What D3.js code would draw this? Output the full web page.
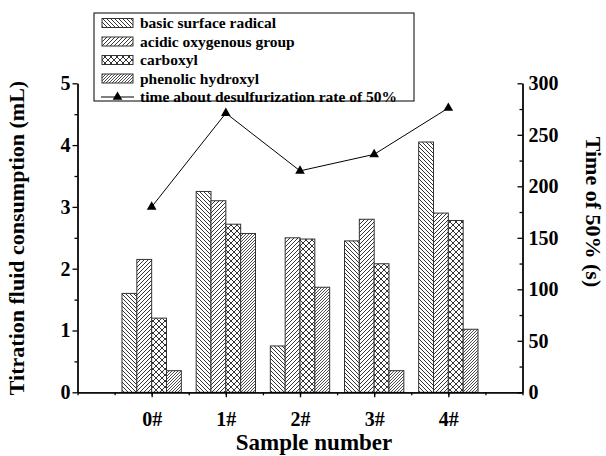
<!DOCTYPE html>
<html>
<head>
<meta charset="utf-8">
<script src="https://cdn.jsdelivr.net/npm/d3@7"></script>
<style>
  body { margin: 0; background: #fff; }
  svg { font-family: "Liberation Serif", "Times New Roman", serif; font-weight: bold; }
</style>
</head>
<body>
<svg id="chart" width="606" height="456"></svg>
<script>
// data
const samples = ["0#", "1#", "2#", "3#", "4#"];
const seriesNames = ["basic surface radical", "acidic oxygenous group", "carboxyl", "phenolic hydroxyl"];
const basic = [1.6, 3.25, 0.75, 2.45, 4.05];
const acidic = [2.15, 3.1, 2.5, 2.8, 2.9];
const carboxyl = [1.2, 2.72, 2.48, 2.08, 2.78];
const phenolic = [0.35, 2.57, 1.7, 0.35, 1.02];
const timeHalf = [180, 271, 215, 231, 276];
const lineName = "time about desulfurization rate of 50%";
const leftTicks = [0, 1, 2, 3, 4, 5];
const rightTicks = [0, 50, 100, 150, 200, 250, 300];

const series = [basic, acidic, carboxyl, phenolic];

const svg = d3.select("#chart");
const mLeft = 77.5, mRight = 522.5, mTop = 83.3, mBottom = 392.3;

const x = d3.scaleLinear().domain([-1, 5]).range([mLeft, mRight]);
const y = d3.scaleLinear().domain([0, 5]).range([mBottom, mTop]);
const y2 = d3.scaleLinear().domain([0, 300]).range([mBottom, mTop]);

// hatch patterns
const defs = svg.append("defs");
function hatch(id, size, d, sw) {
  const p = defs.append("pattern")
    .attr("id", id)
    .attr("patternUnits", "userSpaceOnUse")
    .attr("width", size)
    .attr("height", size);
  p.append("rect").attr("width", size).attr("height", size).attr("fill", "#fff");
  p.append("path").attr("d", d).attr("stroke", "#000").attr("stroke-width", sw).attr("fill", "none");
}
hatch("p0", 4, "M0,0L4,4M-1,3L1,5M3,-1L5,1", 0.8);
hatch("p1", 4, "M0,4L4,0M-1,1L1,-1M3,5L5,3", 0.8);
hatch("p2", 6, "M0,0L6,6M-1,5L1,7M5,-1L7,1M0,6L6,0M-1,1L1,-1M5,7L7,5", 0.8);
hatch("p3", 3, "M0,3L3,0M-1,1L1,-1M2,4L4,2", 0.7);
const fills = ["url(#p0)", "url(#p1)", "url(#p2)", "url(#p3)"];

// bars
const bw = 0.2;
series.forEach((vals, i) => {
  svg.append("g").selectAll("rect")
    .data(vals)
    .enter().append("rect")
    .attr("x", (d, j) => x(j + (i - 2) * bw))
    .attr("y", d => y(d))
    .attr("width", x(bw) - x(0))
    .attr("height", d => y(0) - y(d))
    .attr("fill", fills[i])
    .attr("stroke", "#333")
    .attr("stroke-width", 1);
});

// axes
function styleAxis(g) {
  g.select(".domain").attr("stroke", "#000").attr("stroke-width", 1.3);
  g.selectAll(".tick line").attr("stroke", "#000").attr("stroke-width", 1.3);
  g.selectAll(".tick text").attr("font-size", "20px").attr("font-weight", "bold")
    .attr("font-family", "Liberation Serif, Times New Roman, serif").attr("fill", "#000");
}

// bottom
svg.append("g")
  .attr("transform", `translate(0,${mBottom})`)
  .call(d3.axisBottom(x).tickValues(d3.range(-0.5, 5, 0.5)).tickSize(3).tickFormat(""))
  .call(styleAxis);
svg.append("g")
  .attr("transform", `translate(0,${mBottom})`)
  .call(d3.axisBottom(x).tickValues(d3.range(0, 5)).tickSize(5).tickSizeOuter(0).tickPadding(15)
    .tickFormat(i => samples[i]))
  .call(styleAxis);

// left
svg.append("g")
  .attr("transform", `translate(${mLeft},0)`)
  .call(d3.axisLeft(y).tickValues(d3.range(0.5, 5, 1)).tickSize(3).tickSizeOuter(0).tickFormat(""))
  .call(styleAxis);
svg.append("g")
  .attr("transform", `translate(${mLeft},0)`)
  .call(d3.axisLeft(y).tickValues(leftTicks).tickSize(5).tickSizeOuter(0).tickPadding(2)
    .tickFormat(d3.format("d")))
  .call(styleAxis);

// right
svg.append("g")
  .attr("transform", `translate(${mRight},0)`)
  .call(d3.axisLeft(y2).tickValues(d3.range(25, 300, 50)).tickSize(3).tickSizeOuter(0).tickFormat(""))
  .call(styleAxis);
svg.append("g")
  .attr("transform", `translate(${mRight},0)`)
  .call(d3.axisLeft(y2).tickValues(rightTicks).tickSize(5).tickSizeOuter(0).tickFormat(""))
  .call(styleAxis);
svg.append("g")
  .attr("transform", `translate(${mRight},0)`)
  .call(d3.axisRight(y2).tickValues(rightTicks).tickSize(0).tickPadding(6)
    .tickFormat(d3.format("d")))
  .call(styleAxis)
  .call(g => g.select(".domain").remove());

// line
const line = d3.line().x((d, i) => x(i)).y(d => y2(d));
svg.append("path")
  .datum(timeHalf)
  .attr("d", line)
  .attr("fill", "none")
  .attr("stroke", "#000")
  .attr("stroke-width", 1);
const tri = d3.symbol().type(d3.symbolTriangle).size(40);
svg.append("g").selectAll("path")
  .data(timeHalf)
  .enter().append("path")
  .attr("d", tri)
  .attr("transform", (d, i) => `translate(${x(i)},${y2(d)})`)
  .attr("fill", "#000");

// axis titles
svg.append("text")
  .attr("transform", "translate(24,238) rotate(-90)")
  .attr("text-anchor", "middle")
  .attr("font-size", "22px")
  .text("Titration fluid consumption (mL)");
svg.append("text")
  .attr("x", 314)
  .attr("y", 450)
  .attr("text-anchor", "middle")
  .attr("font-size", "23px")
  .text("Sample number");
svg.append("text")
  .attr("transform", "translate(586,212) rotate(90)")
  .attr("text-anchor", "middle")
  .attr("font-size", "22px")
  .text("Time of 50% (s)");

// legend
const lg = svg.append("g");
lg.append("rect")
  .attr("x", 94).attr("y", 13).attr("width", 320).attr("height", 88)
  .attr("fill", "#fff").attr("stroke", "#000").attr("stroke-width", 1);
const rowY = [23, 41.5, 60, 78.5, 97];
seriesNames.forEach((name, i) => {
  lg.append("rect")
    .attr("x", 102).attr("y", rowY[i] - 4.5).attr("width", 31).attr("height", 9)
    .attr("fill", fills[i]).attr("stroke", "#333").attr("stroke-width", 1);
  lg.append("text")
    .attr("x", 140).attr("y", rowY[i]).attr("dy", "0.35em")
    .attr("font-size", "15.5px")
    .text(name);
});
lg.append("line")
  .attr("x1", 101).attr("x2", 134).attr("y1", rowY[4]).attr("y2", rowY[4])
  .attr("stroke", "#000").attr("stroke-width", 1);
lg.append("path")
  .attr("d", tri)
  .attr("transform", `translate(117.5,${rowY[4]})`)
  .attr("fill", "#000");
lg.append("text")
  .attr("x", 140).attr("y", rowY[4]).attr("dy", "0.35em")
  .attr("font-size", "15.5px")
  .text(lineName);
</script>
</body>
</html>
